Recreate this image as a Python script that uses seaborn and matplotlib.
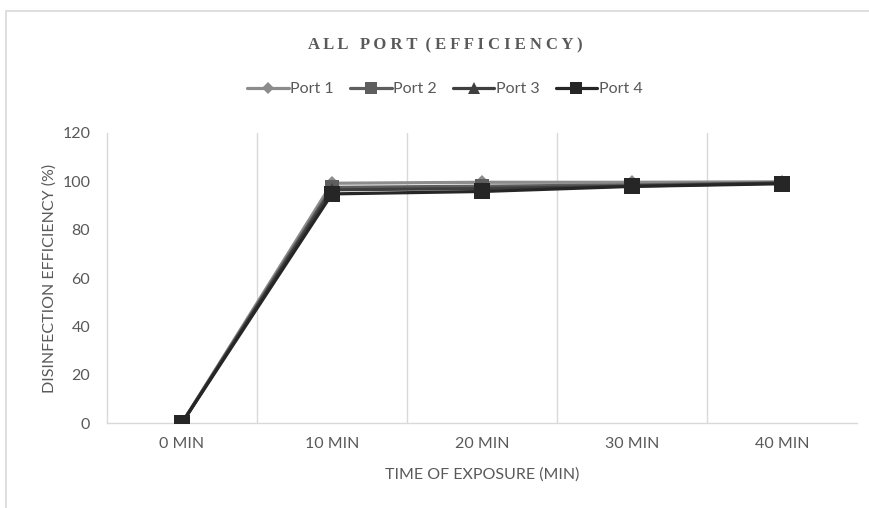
import matplotlib
matplotlib.use("Agg")
import matplotlib.pyplot as plt
from matplotlib.patches import Rectangle
import seaborn as sns
import pandas as pd

# Disinfection efficiency (%) per port at each exposure time
times = ["0 MIN", "10 MIN", "20 MIN", "30 MIN", "40 MIN"]
port_1 = [0, 99.2, 99.6, 99.6, 99.8]
port_2 = [0, 97.5, 98.0, 98.5, 99.4]
port_3 = [0, 96.5, 97.0, 98.0, 99.3]
port_4 = [0, 94.8, 95.8, 97.9, 99.0]
ports = ["Port 1", "Port 2", "Port 3", "Port 4"]
y_ticks = [0, 20, 40, 60, 80, 100, 120]

rows = []
for name, vals in zip(ports, [port_1, port_2, port_3, port_4]):
    for i, (t, v) in enumerate(zip(times, vals)):
        rows.append({"pos": i, "time": t, "port": name, "eff": v})
df = pd.DataFrame(rows)

sns.set_theme(style="white")
plt.rcParams["font.family"] = ["Lato", "DejaVu Sans"]

fig = plt.figure(figsize=(8.69, 5.08), dpi=100)
ax = fig.add_axes([0.1231, 0.1673, 0.8631, 0.5709])

# outer chart frame
fig.patches.append(Rectangle((6 / 869, -0.05), 1.1, 1 - 11 / 508 + 0.05,
                             transform=fig.transFigure, fill=False,
                             edgecolor="#d9d9d9", linewidth=1.2, zorder=0))

palette = {"Port 1": "#8c8c8c", "Port 2": "#5e5e5e", "Port 3": "#3f3f3f", "Port 4": "#262626"}
markers = {"Port 1": "D", "Port 2": "s", "Port 3": "^", "Port 4": "s"}
sizes = {"Port 1": 7, "Port 2": 10, "Port 3": 10, "Port 4": 11}

for name in ports:
    sub = df[df["port"] == name]
    sns.lineplot(data=sub, x="pos", y="eff", ax=ax, color=palette[name],
                 marker=markers[name], markersize=sizes[name], linewidth=2.3,
                 markeredgewidth=0, label=name, legend=False, zorder=3)

ax.set_xlim(-0.5, 4.5)
ax.set_ylim(0, 120)
ax.set_xticks(range(len(times)))
ax.set_xticklabels(times)
ax.set_yticks(y_ticks)
ax.tick_params(axis="both", length=0, labelsize=11.5, colors="#595959")
ax.tick_params(axis="x", pad=10)
ax.tick_params(axis="y", pad=12)

for x in [0.5, 1.5, 2.5, 3.5]:
    ax.axvline(x, color="#d9d9d9", linewidth=1, zorder=1)
for side in ["top", "right"]:
    ax.spines[side].set_visible(False)
ax.spines["left"].set_color("#d9d9d9")
ax.spines["bottom"].set_color("#d9d9d9")
ax.spines["left"].set_linewidth(1)
ax.spines["bottom"].set_linewidth(1)

ax.set_xlabel("TIME OF EXPOSURE (MIN)", fontsize=11.5, color="#595959", labelpad=12)
ax.set_ylabel("DISINFECTION EFFICIENCY (%)", fontsize=11.5, color="#595959", labelpad=4)

fig.text(0.512, 1 - 45 / 508, "A L L   P O R T  ( E F F I C I E N C Y )",
         ha="center", va="center", fontsize=12, fontweight="bold",
         color="#595959", family=["Liberation Serif", "DejaVu Serif"])

handles, labels = ax.get_legend_handles_labels()
fig.legend(handles, labels, loc="center", bbox_to_anchor=(0.512, 1 - 89 / 508),
           ncol=4, frameon=False, fontsize=11.5, handlelength=2.6,
           columnspacing=1.0, handletextpad=0.1, labelcolor="#595959",
           markerscale=0.85)

fig.savefig("out.png", dpi=100)
